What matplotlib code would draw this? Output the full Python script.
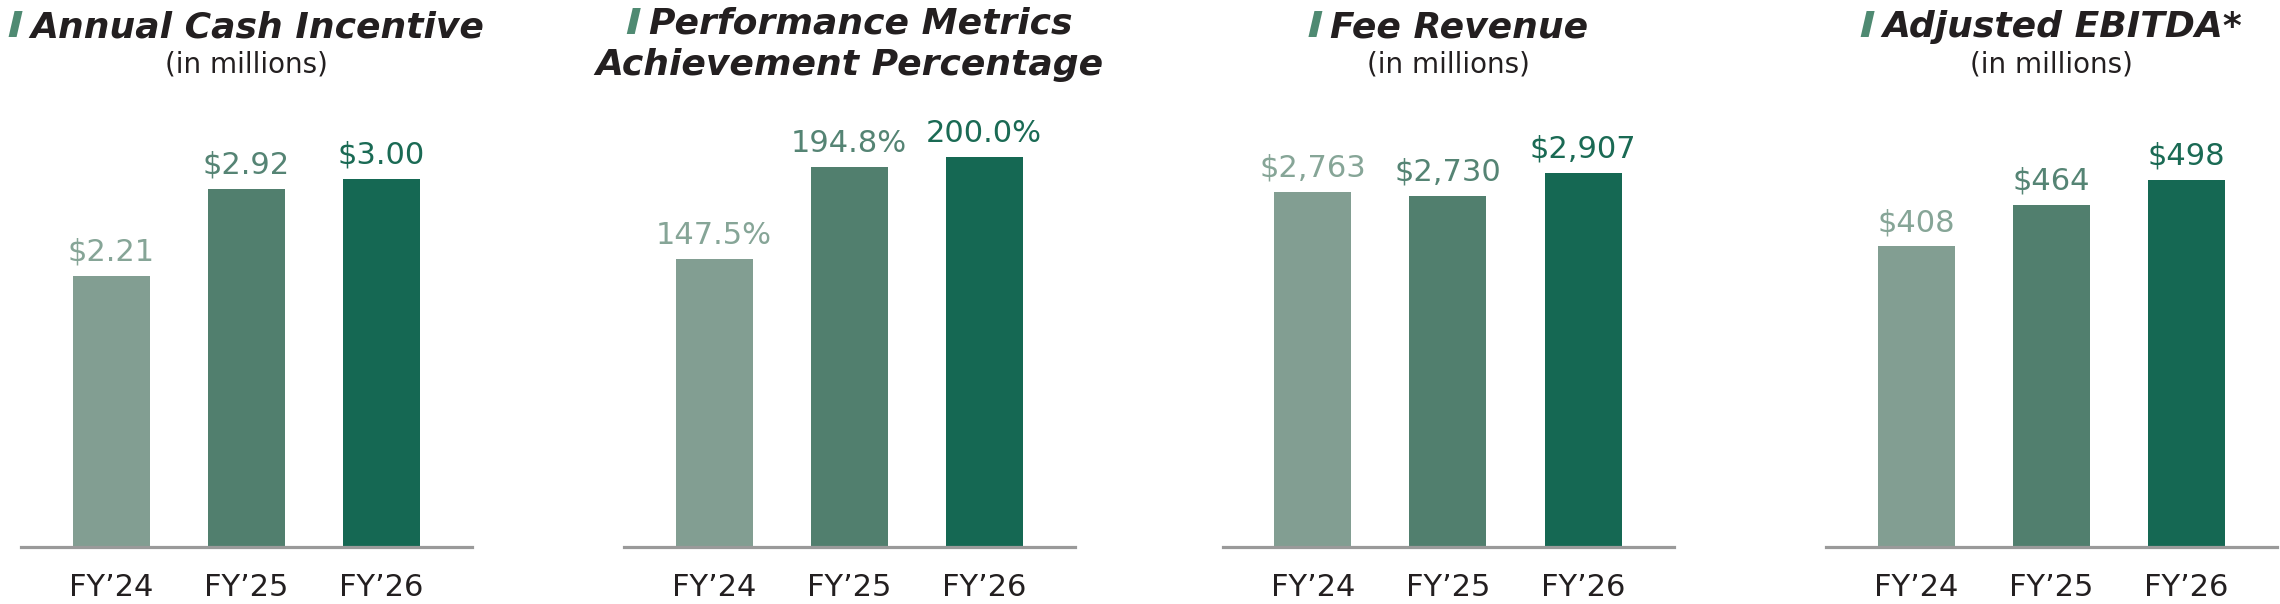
import matplotlib
matplotlib.use("Agg")
import matplotlib.pyplot as plt
from matplotlib.patches import Polygon

# data
years = ["FY’24", "FY’25", "FY’26"]
cash_incentive = [2.21, 2.92, 3.00]          # $ millions
achievement_pct = [147.5, 194.8, 200.0]      # %
fee_revenue = [2763, 2730, 2907]             # $ millions
adj_ebitda = [408, 464, 498]                 # $ millions

titles = [["Annual Cash Incentive"],
          ["Performance Metrics", "Achievement Percentage"],
          ["Fee Revenue"],
          ["Adjusted EBITDA*"]]
subtitles = ["(in millions)", None, "(in millions)", "(in millions)"]

bar_colors = ["#829e92", "#517f6e", "#156853"]
label_colors = ["#86a597", "#558474", "#1a6a54"]

FONT = "DejaVu Sans"
W, H = 2280, 604
fig = plt.figure(figsize=(W / 100, H / 100), dpi=100)
renderer = fig.canvas.get_renderer()

series = [cash_incentive, achievement_pct, fee_revenue, adj_ebitda]
fmts = [lambda v: f"${v:.2f}", lambda v: f"{v:.1f}%",
        lambda v: f"${v:,.0f}", lambda v: f"${v:,.0f}"]
lefts = [21, 624, 1223, 1826]      # px, left end of baseline
tallest = [368, 390, 374, 367]     # px height of the tallest bar
ax_w, ax_bot, ax_top = 451, 547, 100


def title_line(cx, y_px, text, bar):
    t = fig.text(0, 1 - y_px / H, text, fontsize=26, fontweight="bold",
                 fontstyle="italic", family=FONT, color="#231f20",
                 ha="left", va="baseline")
    w = t.get_window_extent(renderer).width
    extra = 22 if bar else 0
    x0 = cx - (w + extra) / 2
    t.set_x((x0 + extra) / W)
    if bar:
        b = H - y_px
        pts = [(x0, b), (x0 + 8, b), (x0 + 14, b + 26), (x0 + 6, b + 26)]
        fig.add_artist(Polygon([(px / W, py / H) for px, py in pts],
                               closed=True, transform=fig.transFigure,
                               color="#4f8a72", lw=0))


for k in range(4):
    vals = series[k]
    ax = fig.add_axes([lefts[k] / W, 1 - ax_bot / H, ax_w / W, (ax_bot - ax_top) / H])
    ax.bar(range(3), vals, width=77 / 135, color=bar_colors)
    ax.set_xlim(-90 / 135, (ax_w - 90) / 135)
    ax.set_ylim(0, max(vals) * (ax_bot - ax_top) / tallest[k])
    for s in ["left", "right", "top"]:
        ax.spines[s].set_visible(False)
    ax.spines["bottom"].set_color("#9a9a9a")
    ax.spines["bottom"].set_linewidth(2.3)
    ax.set_yticks([])
    ax.set_xticks(range(3), years)
    ax.tick_params(axis="x", length=0, pad=19, labelsize=22, labelcolor="#231f20")
    for lab in ax.get_xticklabels():
        lab.set_family(FONT)
    for i, v in enumerate(vals):
        ax.annotate(fmts[k](v), (i, v), xytext=(0, 11), textcoords="offset points",
                    ha="center", va="baseline", fontsize=22, color=label_colors[i],
                    family=FONT)

    cx = lefts[k] + ax_w / 2
    if len(titles[k]) == 2:
        title_line(cx, 34, titles[k][0], True)
        title_line(cx, 75, titles[k][1], False)
    else:
        title_line(cx, 37, titles[k][0], True)
    if subtitles[k]:
        fig.text(cx / W, 1 - 73 / H, subtitles[k], fontsize=20, family=FONT,
                 color="#231f20", ha="center", va="baseline")

fig.savefig("out.png", dpi=100)
